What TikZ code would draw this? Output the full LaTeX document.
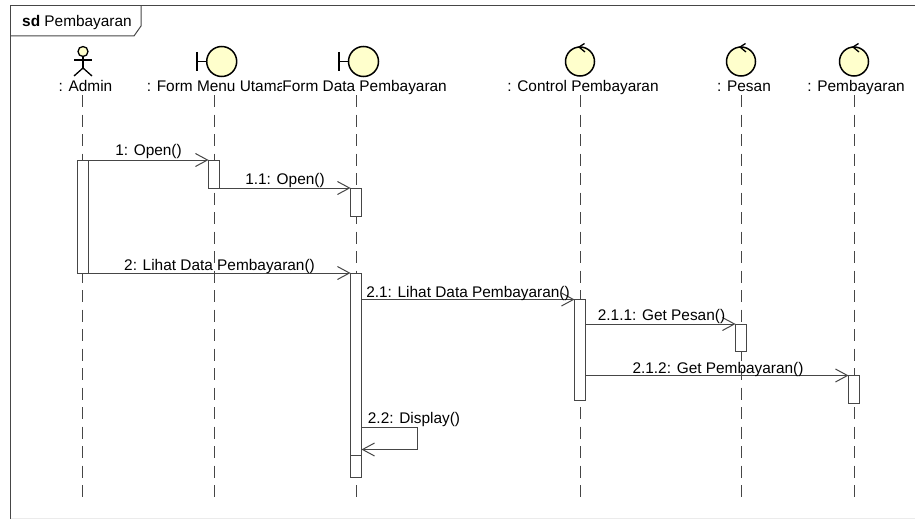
\documentclass[tikz,border=0pt]{standalone}
\usepackage{fontspec}
\setmainfont{Liberation Sans}
\usetikzlibrary{arrows.meta}

\definecolor{iconfill}{RGB}{255,255,204}
\definecolor{linegray}{RGB}{70,70,70}
\tikzset{
	lbl/.style={font=\fontsize{15.4}{17}\selectfont, inner sep=0pt, text=black, text height=11pt, text depth=3pt},
	lifeline/.style={draw=linegray, line width=1pt, dash pattern=on 12pt off 7.5pt},
	act/.style={draw=linegray, fill=white, line width=1pt, minimum width=11pt, inner sep=0pt, outer sep=0pt, anchor=north},
	msg/.style={draw=linegray, line width=1pt, -{Straight Barb[length=12pt,width=13pt,line width=1pt]}},
	icon/.style={circle, draw=black, fill=iconfill, line width=1.5pt, inner sep=0pt, minimum size=29pt}
}

\begin{document}
\begin{tikzpicture}[x=1pt,y=-1pt]
	\useasboundingbox (0,0) rectangle (915,519);

	\draw [line width=1pt, draw=linegray] (10.5,519) -- (10.5,6) -- (915,6);
	\draw [line width=1pt, draw=black!8] (10.5,518) -- (915,518);
	\draw [line width=1pt, draw=linegray] (10.5,36) -- (134,36) -- (141,26) -- (141,6);
	\node (frame) [lbl, anchor=west] at (22,23) {\textbf{sd} Pembayaran};

	\node (admin) [lbl] at (85.5,88) {: Admin};
	\node (menu) [lbl] at (216,88) {: Form Menu Utama};
	\node (data) [lbl, anchor=east, fill=white] at (447,88) {Form Data Pembayaran};
	\node (control) [lbl] at (583,88) {: Control Pembayaran};
	\node (pesan) [lbl] at (744,88) {: Pesan};
	\node (bayar) [lbl] at (856,88) {: Pembayaran};

	\coordinate (adminend) at (82.5,497);
	\coordinate (menuend) at (214,497);
	\coordinate (dataend) at (356,502);
	\coordinate (controlend) at (580,497);
	\coordinate (pesanend) at (741,497);
	\coordinate (bayarend) at (854,497);

	\draw [lifeline] (82.5,95) -- (adminend);
	\draw [lifeline] (214,95) -- (menuend);
	\draw [lifeline] (356,95) -- (dataend);
	\draw [lifeline] (580,95) -- (controlend);
	\draw [lifeline] (741,95) -- (pesanend);
	\draw [lifeline] (854,95) -- (bayarend);

	\node (head) [circle, draw=black, fill=iconfill, line width=1.3pt, inner sep=0pt, minimum size=10pt] at (83,51.5) {};
	\coordinate (hip) at (83,68);
	\draw [line width=1.3pt] (head.south) -- (hip);
	\draw [line width=1.3pt] (74,60) -- (92,60);
	\draw [line width=1.3pt] (74,76) -- (hip) -- (92,76);

	\node (menuicon) [icon, minimum size=30pt] at (221.7,61.5) {};
	\draw [line width=1.5pt] (menuicon.west) -- (197,61.5);
	\draw [line width=1.5pt] (197,52) -- (197,71);
	\node (dataicon) [icon, minimum size=30pt] at (363.5,61.5) {};
	\draw [line width=1.5pt] (dataicon.west) -- (339,61.5);
	\draw [line width=1.5pt] (339,52) -- (339,71);

	\node (controlicon) [icon] at (580,61.5) {};
	\draw [line width=1.3pt] (584.5,43.5) -- (579,47) -- (585,52);
	\node (pesanicon) [icon] at (741,61.5) {};
	\draw [line width=1.3pt] (745.5,43.5) -- (740,47) -- (746,52);
	\node (bayaricon) [icon] at (854,61.5) {};
	\draw [line width=1.3pt] (858.5,43.5) -- (853,47) -- (859,52);

	\node (adminact) [act, minimum height=113pt] at (82.5,160) {};
	\node (menuact) [act, minimum height=28pt] at (214,160) {};
	\node (dataact) [act, minimum height=28pt] at (356,188) {};
	\node (dataactb) [act, minimum height=182pt] at (356,273) {};
	\node (dataactc) [act, minimum height=22pt] at (356,455) {};
	\node (controlact) [act, minimum height=100.5pt] at (580,299.5) {};
	\node (pesanact) [act, minimum height=27.5pt] at (741,324) {};
	\node (bayaract) [act, minimum height=27.5pt] at (854,375.5) {};

	\draw [msg] (adminact.north east) -- (menuact.north west);
	\draw [msg] (menuact.south east) -- (dataact.north west);
	\draw [msg] (adminact.south east) -- (dataactb.north west);
	\draw [msg] (dataactb.east |- controlact.north) -- (controlact.north west);
	\draw [msg] (controlact.east |- pesanact.north) -- (pesanact.north west);
	\draw [msg] (controlact.east |- bayaract.north) -- (bayaract.north west);

	\coordinate (selfa) at (417,427);
	\coordinate (selfb) at (417,449.5);
	\draw [msg] (dataactb.east |- selfa) -- (selfa) -- (selfb) -- (dataactb.east |- selfb);

	\node (m1) [lbl] at (148.5,151) {1: Open()};
	\node (m11) [lbl] at (285,180) {1.1: Open()};
	\node (m2) [lbl] at (219.5,266) {2: Lihat Data Pembayaran()};
	\node (m21) [lbl] at (468,293) {2.1: Lihat Data Pembayaran()};
	\node (m211) [lbl] at (661.5,316) {2.1.1: Get Pesan()};
	\node (m212) [lbl] at (718,369) {2.1.2: Get Pembayaran()};
	\node (m22) [lbl] at (414,419) {2.2: Display()};
\end{tikzpicture}
\end{document}
